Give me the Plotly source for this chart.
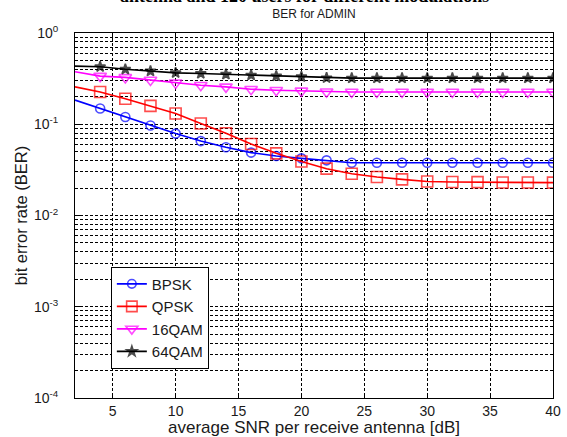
import plotly.graph_objects as go

snr = [2, 4, 6, 8, 10, 12, 14, 16, 18, 20, 22, 24, 26, 28, 30, 32, 34, 36, 38, 40]
bpsk = [0.184, 0.149, 0.120, 0.0968, 0.079, 0.0654, 0.0559, 0.0489, 0.0449, 0.0423,
        0.0402, 0.0379, 0.0379, 0.0379, 0.0379, 0.0379, 0.0379, 0.0379, 0.0379, 0.0379]
qpsk = [0.257, 0.226, 0.190, 0.159, 0.131, 0.102, 0.0796, 0.0608, 0.048, 0.039,
        0.0326, 0.0287, 0.0264, 0.0249, 0.0236, 0.0233, 0.0232, 0.0230, 0.0230, 0.0229]
qam16 = [0.376, 0.337, 0.326, 0.305, 0.284, 0.268, 0.257, 0.242, 0.236, 0.232,
         0.227, 0.226, 0.226, 0.226, 0.226, 0.226, 0.226, 0.226, 0.226, 0.226]
qam64 = [0.434, 0.426, 0.400, 0.382, 0.366, 0.360, 0.352, 0.345, 0.337, 0.331,
         0.322, 0.320, 0.320, 0.320, 0.320, 0.320, 0.320, 0.320, 0.320, 0.320]
names = ["BPSK", "QPSK", "16QAM", "64QAM"]
y_ticks = [1e-4, 1e-3, 1e-2, 1e-1, 1]
y_labels = ["10<sup>-4</sup>", "10<sup>-3</sup>", "10<sup>-2</sup>", "10<sup>-1</sup>", "10<sup>0</sup>"]

series = [bpsk, qpsk, qam16, qam64]
colors = ["#0000ff", "#ff0000", "#ff00ff", "#000000"]
symbols = ["circle-open", "square-open", "triangle-down-open", "star"]
sizes = [9, 11, 11, 8]

fig = go.Figure()
for vals, name, c, s, sz in zip(series, names, colors, symbols, sizes):
    fig.add_trace(go.Scatter(
        x=snr, y=vals, name=name, mode="lines+markers",
        line=dict(color=c, width=1.6),
        marker=dict(symbol=s, color=c, size=[0] + [sz] * (len(snr) - 1),
                    line=dict(color=c, width=1.6)),
    ))

font_family = "Liberation Sans, Arial, sans-serif"
grid = dict(showgrid=True, gridcolor="black", gridwidth=0.7, griddash="3px,2px")
fig.update_layout(
    width=567, height=437,
    margin=dict(l=75, r=14, t=33, b=39, autoexpand=False),
    paper_bgcolor="white", plot_bgcolor="white",
    font=dict(family=font_family, size=14, color="#1a1a1a"),
    title=dict(text="BER for ADMIN", x=0.5, xref="paper", xanchor="center",
               y=1 - 14 / 437, yref="container", yanchor="middle",
               font=dict(size=12, color="#1a1a1a")),
    showlegend=True,
    legend=dict(x=0.075, y=0.36, xanchor="left", yanchor="top",
                bgcolor="white", bordercolor="black", borderwidth=1,
                font=dict(size=15, color="#1a1a1a"), tracegroupgap=0),
    annotations=[dict(text="<b>antenna and 120 users for different modulations</b>",
                      xref="paper", yref="paper", x=0.48, y=1 + 37.5 / 365,
                      xanchor="center", yanchor="middle", showarrow=False,
                      font=dict(family="Liberation Serif, Times New Roman, serif",
                                size=18, color="black"))],
)
fig.update_xaxes(
    range=[2, 40], tick0=0, dtick=5, ticks="inside", ticklen=5, tickcolor="black",
    showline=True, linecolor="black", linewidth=1, mirror="ticks",
    zeroline=False, automargin=False, **grid,
    title=dict(text="average SNR per receive antenna [dB]", standoff=4, font=dict(size=17)),
    tickfont=dict(size=14), ticklabelstandoff=0,
)
fig.update_yaxes(
    type="log", range=[-4, 0], tickvals=y_ticks, ticktext=y_labels,
    ticks="inside", ticklen=5, tickcolor="black",
    showline=True, linecolor="black", linewidth=1, mirror="ticks",
    automargin=False, **grid,
    minor=dict(dtick="D1", showgrid=True, gridcolor="black", gridwidth=0.7,
               griddash="3px,2px", ticks="inside", ticklen=3, tickcolor="black"),
    title=dict(text="bit error rate (BER)", standoff=2, font=dict(size=16.5)),
    tickfont=dict(size=14), ticklabelstandoff=13,
)
fig.write_html("out.html", config={"displayModeBar": False},
               post_script="document.body.style.margin='0';document.body.style.overflow='hidden';")
